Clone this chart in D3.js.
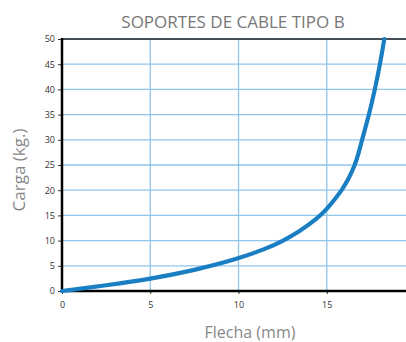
<!DOCTYPE html>
<html><head><meta charset="utf-8">
<script src="https://cdn.jsdelivr.net/npm/d3@7"></script>
<style>body{margin:0;background:#fff;}svg{display:block;font-family:"Open Sans",sans-serif;}</style>
</head><body><svg id="c" width="406" height="342"></svg>
<script>
const flecha = [0,2.5,5,7.5,10,11.5,12.5,13.5,14.5,15,15.5,15.85,16.25,16.6,16.8,17.0,17.4,17.73,18.02,18.26];
const carga  = [0,1.1,2.4,4.1,6.4,8.3,9.9,11.9,14.5,16.2,18.4,20,22.3,25,27.3,30,35,40,45,50];
const xTicks = [0,5,10,15];
const yTicks = [0,5,10,15,20,25,30,35,40,45,50];
const title = "SOPORTES DE CABLE TIPO B";
const xLabel = "Flecha (mm)";
const yLabel = "Carga (kg.)";

const svg = d3.select("#c");
const L=62, R=406, T=39, B=291;
const x = d3.scaleLinear().domain([0,(R-L)/17.65]).range([L,R]);
const y = d3.scaleLinear().domain([0,50]).range([B,T]);

// grid
svg.append("g").selectAll("line").data(yTicks.filter(d=>d>0)).join("line")
  .attr("x1",L).attr("x2",R).attr("y1",d=>y(d)).attr("y2",d=>y(d))
  .attr("stroke","#8fc6ee").attr("stroke-width",1.3);
svg.append("g").selectAll("line").data(xTicks.filter(d=>d>0)).join("line")
  .attr("y1",T).attr("y2",B).attr("x1",d=>x(d)).attr("x2",d=>x(d))
  .attr("stroke","#8fc6ee").attr("stroke-width",1.3);

// top border
svg.append("line").attr("x1",L).attr("x2",R).attr("y1",T).attr("y2",T).attr("stroke","#222").attr("stroke-width",1.5);

// axes
const yAx = svg.append("g").attr("transform",`translate(${L},0)`)
  .call(d3.axisLeft(y).tickValues(yTicks).tickSize(4).tickPadding(3));
const xAx = svg.append("g").attr("transform",`translate(0,${B})`)
  .call(d3.axisBottom(x).tickValues(xTicks).tickSize(3).tickPadding(8));
[yAx,xAx].forEach(g=>{
  g.select(".domain").remove();
  g.selectAll("text").attr("fill","#333").style("font-size","9px").style("font-family","'Open Sans',sans-serif");
  g.selectAll("line").attr("stroke","#333");
});
svg.append("line").attr("x1",L).attr("x2",L).attr("y1",T-1).attr("y2",B+1).attr("stroke","#000").attr("stroke-width",2.5);
svg.append("line").attr("x1",L-1).attr("x2",R).attr("y1",B).attr("y2",B).attr("stroke","#000").attr("stroke-width",2.5);

// curve
const pts = flecha.map((d,i)=>[d,carga[i]]);
svg.append("path").datum(pts)
  .attr("d",d3.line().x(d=>x(d[0])).y(d=>y(d[1])).curve(d3.curveBasis))
  .attr("fill","none").attr("stroke","#1a7fc2").attr("stroke-width",4.2).attr("stroke-linecap","round");

// text
svg.append("text").attr("x",233).attr("y",28).attr("text-anchor","middle")
  .attr("fill","#777").style("font-size","17px").text(title);
svg.append("text").attr("x",250).attr("y",338).attr("text-anchor","middle")
  .attr("fill","#888").style("font-size","16px").text(xLabel);
svg.append("text").attr("transform","translate(25,170) rotate(-90)").attr("text-anchor","middle")
  .attr("fill","#888").style("font-size","17px").text(yLabel);
</script></body></html>
